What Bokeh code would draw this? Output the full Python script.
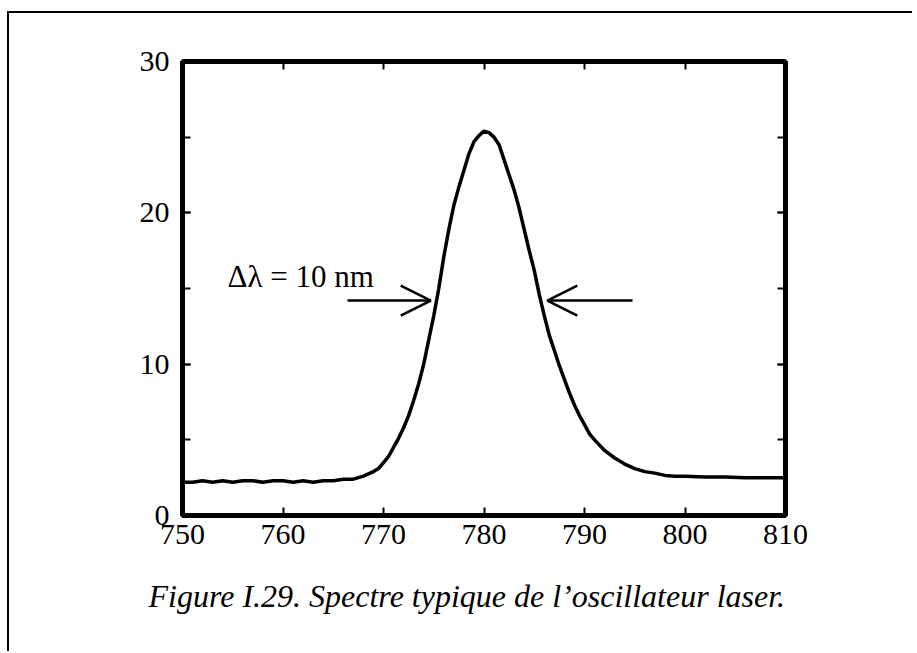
from bokeh.plotting import figure
from bokeh.models import (Range1d, LinearAxis, SingleIntervalTicker, FixedTicker,
                          Label, Arrow, OpenHead, ColumnDataSource, Title)
from bokeh.embed import file_html
from bokeh.resources import INLINE

# ---------------- data ----------------
wavelength = [750.0, 751.0, 752.0, 753.0, 754.0, 755.0, 756.0, 757.0, 758.0, 759.0,
              760.0, 761.0, 762.0, 763.0, 764.0, 765.0, 766.0, 767.0, 768.0, 769.0,
              769.5, 770.0, 770.5, 771.0, 771.5, 772.0, 772.5, 773.0, 773.5, 774.0,
              774.5, 775.0, 775.5, 776.0, 776.5, 777.0, 777.5, 778.0, 778.5, 779.0,
              779.5, 780.0, 780.5, 781.0, 781.5, 782.0, 782.5, 783.0, 783.5, 784.0,
              784.5, 785.0, 785.5, 786.0, 786.5, 787.0, 787.5, 788.0, 788.5, 789.0,
              789.5, 790.0, 790.5, 791.0, 792.0, 793.0, 794.0, 795.0, 796.0, 797.0,
              798.0, 799.0, 800.0, 802.0, 804.0, 806.0, 808.0, 810.0]
intensity = [2.2, 2.2, 2.3, 2.2, 2.3, 2.2, 2.3, 2.3, 2.2, 2.3,
             2.3, 2.2, 2.3, 2.2, 2.3, 2.3, 2.4, 2.4, 2.6, 2.9,
             3.1, 3.5, 3.9, 4.5, 5.1, 5.8, 6.6, 7.6, 8.7, 10.0,
             11.6, 13.2, 15.0, 17.1, 18.9, 20.5, 21.7, 22.8, 23.9, 24.7,
             25.1, 25.4, 25.3, 25.0, 24.5, 23.5, 22.5, 21.5, 20.3, 18.9,
             17.5, 16.2, 14.6, 13.2, 11.9, 10.9, 9.9, 9.0, 8.1, 7.3,
             6.6, 6.0, 5.4, 5.0, 4.3, 3.8, 3.4, 3.1, 2.9, 2.8,
             2.65, 2.6, 2.6, 2.55, 2.55, 2.5, 2.5, 2.5]
x_ticks = [750, 760, 770, 780, 790, 800, 810]
y_ticks = [0, 10, 20, 30]
fwhm_label = "Δλ = 10 nm"
fwhm_left, fwhm_right, fwhm_level = 774.7, 786.3, 14.2
caption = "Figure I.29. Spectre typique de l\u2019oscillateur laser."

# ---------------- layout constants (pixels) ----------------
OX, OY = 7, 11                          # outer panel box corner on the page
BW = 2                                  # its line width
W, H = 905, 640
FL, FR, FT, FB = 182, 785, 61, 515      # frame edges in page pixels
X0, X1, Y0, Y1 = 750, 810, 0, 30
SERIF = "Liberation Serif"

fl = FL - OX - BW                       # frame edges relative to the canvas
ft = FT - OY - BW
fw = FR - FL
fh = FB - FT


def px_x(px):
    return X0 + (px - FL) * (X1 - X0) / (FR - FL)


def px_y(py):
    return Y0 + (FB - py) * (Y1 - Y0) / (FB - FT)


p = figure(width=W, height=H, output_backend="svg", toolbar_location=None,
           x_range=Range1d(X0, X1), y_range=Range1d(Y0, Y1),
           x_axis_location=None, y_axis_location=None,
           min_border_left=fl, min_border_right=W - fl - fw,
           min_border_top=ft, min_border_bottom=H - ft - fh)
p.margin = (OY, 0, 0, OX)
p.grid.visible = False
p.background_fill_color = "white"
p.border_fill_color = "white"
p.outline_line_color = "black"
p.outline_line_width = 5
# outer panel box: only its left and top edges are on the page
p.stylesheets = [":host { border-left: %dpx solid black; border-top: %dpx solid black; }" % (BW, BW)]

xt = FixedTicker(ticks=x_ticks)
yt = SingleIntervalTicker(interval=10, num_minor_ticks=2)


def style_axis(ax, labels=True):
    ax.axis_line_color = None
    ax.major_tick_in = 8
    ax.major_tick_out = 0
    ax.minor_tick_in = 8
    ax.minor_tick_out = 0
    ax.major_tick_line_width = 2
    ax.minor_tick_line_width = 2
    ax.major_tick_line_color = "black"
    ax.minor_tick_line_color = "black"
    if labels:
        ax.major_label_text_font = SERIF
        ax.major_label_text_font_size = "30px"
        ax.major_label_text_color = "black"
    else:
        ax.major_label_text_font_size = "0px"
        ax.major_label_text_color = None


bx = LinearAxis(ticker=xt)
style_axis(bx)
bx.minor_tick_line_color = None
bx.major_label_standoff = 9
p.add_layout(bx, "below")

tx = LinearAxis(ticker=xt)
style_axis(tx, labels=False)
tx.minor_tick_line_color = None
p.add_layout(tx, "above")

ly = LinearAxis(ticker=yt)
style_axis(ly)
ly.major_label_standoff = 13
p.add_layout(ly, "left")

ry = LinearAxis(ticker=yt)
style_axis(ry, labels=False)
p.add_layout(ry, "right")

src = ColumnDataSource(data=dict(x=wavelength, y=intensity))
p.line("x", "y", source=src, line_color="black", line_width=3.5)

# FWHM arrows and label
p.add_layout(Arrow(end=OpenHead(size=30, line_width=2.5, line_color="black"),
                   x_start=px_x(347), y_start=fwhm_level,
                   x_end=fwhm_left, y_end=fwhm_level,
                   line_width=2.5, line_color="black"))
p.add_layout(Arrow(end=OpenHead(size=30, line_width=2.5, line_color="black"),
                   x_start=px_x(632), y_start=fwhm_level,
                   x_end=fwhm_right, y_end=fwhm_level,
                   line_width=2.5, line_color="black"))
p.add_layout(Label(x=px_x(227), y=px_y(276), text=fwhm_label,
                   text_font=SERIF, text_font_size="31px", text_color="black",
                   text_baseline="alphabetic", text_align="left"))

# caption below the axis
cap = Title(text=caption, align="left", offset=148 - FL, standoff=59,
            text_font=SERIF, text_font_size="32px", text_font_style="italic",
            text_color="black")
p.add_layout(cap, "below")

open("out.html", "w").write(file_html(p, INLINE))
